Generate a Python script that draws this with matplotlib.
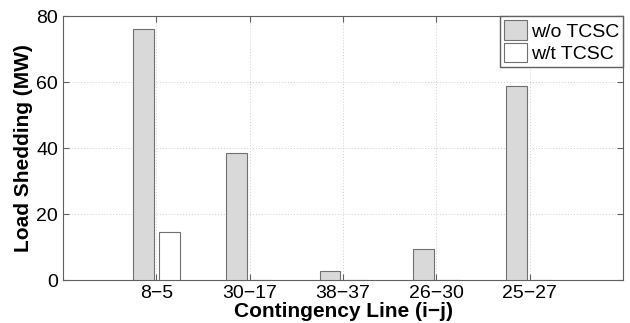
import matplotlib
matplotlib.use("Agg")
import matplotlib.pyplot as plt
import numpy as np

plt.rcParams['font.family'] = ['Liberation Sans', 'DejaVu Sans']

lines = ["8\u22125", "30\u221217", "38\u221237", "26\u221230", "25\u221227"]
without_tcsc = [76.2, 38.4, 2.8, 9.3, 58.8]
with_tcsc = [14.7, 0, 0, 0, 0]

x = np.arange(1, len(lines) + 1)
w = 0.22

fig = plt.figure(figsize=(6.3, 3.23), dpi=100)
ax = fig.add_axes([0.1, 0.133, 0.889, 0.817])

ax.bar(x - 0.14, without_tcsc, w, color='#d9d9d9', edgecolor='#707070',
       linewidth=0.8, label='w/o TCSC', zorder=3)
ax.bar(x + 0.14, with_tcsc, w, color='white', edgecolor='#707070',
       linewidth=0.8, label='w/t TCSC', zorder=3)

ax.set_xlim(0, 6)
ax.set_ylim(0, 80)
ax.set_xticks(x)
ax.set_xticklabels(lines)
ax.set_yticks([0, 20, 40, 60, 80])
ax.grid(True, linestyle=(0, (1, 2)), color='#cfcfcf', linewidth=0.7, zorder=0)
ax.tick_params(direction='in', top=True, right=True, labelsize=14, length=4,
               color='#606060')
for s in ax.spines.values():
    s.set_color('#606060')

ax.set_xlabel('Contingency Line (i\u2212j)', fontsize=15, fontweight='bold',
              labelpad=0)
ax.set_ylabel('Load Shedding (MW)', fontsize=15, fontweight='bold', labelpad=2)

leg = ax.legend(loc='upper right', fontsize=14, fancybox=False, framealpha=1,
                borderaxespad=0, handlelength=1.2, handleheight=1.2,
                handletextpad=0.2, borderpad=0.2, labelspacing=0.1)
leg.get_frame().set_edgecolor('#606060')

fig.savefig('out.png', dpi=100)
